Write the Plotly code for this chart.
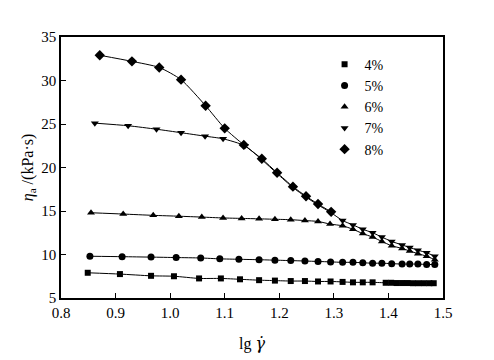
import plotly.graph_objects as go

# ---- data ----
x4 = [0.849, 0.908, 0.965, 1.007, 1.053, 1.093, 1.128, 1.163, 1.192, 1.221, 1.247, 1.271, 1.294, 1.316, 1.335, 1.353, 1.371,
      1.395, 1.405, 1.415, 1.425, 1.435, 1.445, 1.455, 1.465, 1.475, 1.483]
y4 = [7.9, 7.75, 7.55, 7.5, 7.25, 7.25, 7.15, 7.05, 7.0, 6.95, 6.95, 6.9, 6.9, 6.85, 6.8, 6.8, 6.8,
      6.75, 6.75, 6.72, 6.72, 6.72, 6.7, 6.7, 6.7, 6.7, 6.7]

x5 = [0.853, 0.912, 0.965, 1.011, 1.056, 1.091, 1.126, 1.163, 1.192, 1.221, 1.247, 1.271, 1.294, 1.316, 1.335, 1.353,
      1.371, 1.388, 1.406, 1.425, 1.439, 1.454, 1.470, 1.485]
y5 = [9.8, 9.75, 9.7, 9.65, 9.6, 9.5, 9.45, 9.4, 9.35, 9.3, 9.25, 9.2, 9.15, 9.1, 9.1, 9.05,
      9.0, 9.0, 8.95, 8.9, 8.9, 8.9, 8.85, 8.85]

x6 = [0.855, 0.914, 0.969, 1.016, 1.058, 1.097, 1.131, 1.163, 1.192, 1.221, 1.247, 1.271, 1.293, 1.316, 1.335, 1.353,
      1.371, 1.388, 1.406, 1.425, 1.439, 1.454, 1.470, 1.485]
y6 = [14.8, 14.65, 14.5, 14.4, 14.3, 14.2, 14.15, 14.1, 14.05, 14.0, 13.9, 13.8, 13.5, 13.3, 12.9, 12.4,
      12.0, 11.5, 11.0, 10.7, 10.4, 10.1, 9.8, 9.4]

x7 = [0.862, 0.923, 0.975, 1.020, 1.064, 1.097, 1.137, 1.168, 1.196, 1.225, 1.249, 1.271, 1.295, 1.316, 1.335, 1.353,
      1.371, 1.388, 1.406, 1.425, 1.439, 1.454, 1.470, 1.485]
y7 = [25.1, 24.8, 24.4, 24.0, 23.6, 23.3, 22.5, 20.9, 19.3, 17.7, 16.6, 15.7, 14.8, 13.9, 13.4, 12.9,
      12.5, 12.0, 11.5, 11.1, 10.8, 10.5, 10.2, 9.8]

x8 = [0.871, 0.930, 0.980, 1.020, 1.065, 1.100, 1.135, 1.168, 1.196, 1.225, 1.249, 1.271, 1.295]
y8 = [32.9, 32.2, 31.5, 30.1, 27.1, 24.5, 22.6, 21.0, 19.4, 17.8, 16.7, 15.8, 14.9]

names = ["4%", "5%", "6%", "7%", "8%"]
symbols = ["square", "circle", "triangle-up", "triangle-down", "diamond"]
sizes = [6, 7, 7, 7, 8]
xs = [x4, x5, x6, x7, x8]
ys = [y4, y5, y6, y7, y8]

fig = go.Figure()
for x, y, s, sz in zip(xs, ys, symbols, sizes):
    fig.add_trace(go.Scatter(x=x, y=y, mode="lines+markers", showlegend=False,
                             line=dict(color="black", width=1, shape="spline", smoothing=0.6),
                             marker=dict(symbol=s, size=sz, color="black")))
for n, s, sz in zip(names, symbols, sizes):
    fig.add_trace(go.Scatter(x=[None], y=[None], mode="markers", name=n,
                             marker=dict(symbol=s, size=sz, color="black")))

font = "Liberation Serif"
fig.update_layout(
    width=494, height=360,
    margin=dict(l=53, r=59, t=29, b=70),
    paper_bgcolor="white", plot_bgcolor="white",
    font=dict(family=font, size=14, color="black"),
    legend=dict(x=0.69, y=0.955, xanchor="left", yanchor="top",
                bgcolor="rgba(0,0,0,0)", font=dict(size=14, family=font), tracegroupgap=0),
)
fig.update_xaxes(range=[0.8, 1.5], tickvals=[0.8, 0.9, 1.0, 1.1, 1.2, 1.3, 1.4, 1.5],
                 ticktext=["0.8", "0.9", "1.0", "1.1", "1.2", "1.3", "1.4", "1.5"],
                 ticks="inside", ticklen=5, tickcolor="black", showgrid=False, zeroline=False,
                 showline=True, linecolor="black", linewidth=1.5, mirror=True,
                 tickfont=dict(family=font, size=15),
                 title=dict(text="lg <i><span style='font-family:DejaVu Serif'>γ̇</span></i>",
                            font=dict(size=16, family=font), standoff=18))
fig.update_yaxes(range=[5, 35], tickvals=[5, 10, 15, 20, 25, 30, 35],
                 ticks="inside", ticklen=5, tickcolor="black", showgrid=False, zeroline=False,
                 showline=True, linecolor="black", linewidth=1.5, mirror=True,
                 tickfont=dict(family=font, size=15),
                 title=dict(text="<i>η</i><sub>a</sub> /(kPa·s)", font=dict(size=16, family=font), standoff=4))

fig.write_html("out.html")
